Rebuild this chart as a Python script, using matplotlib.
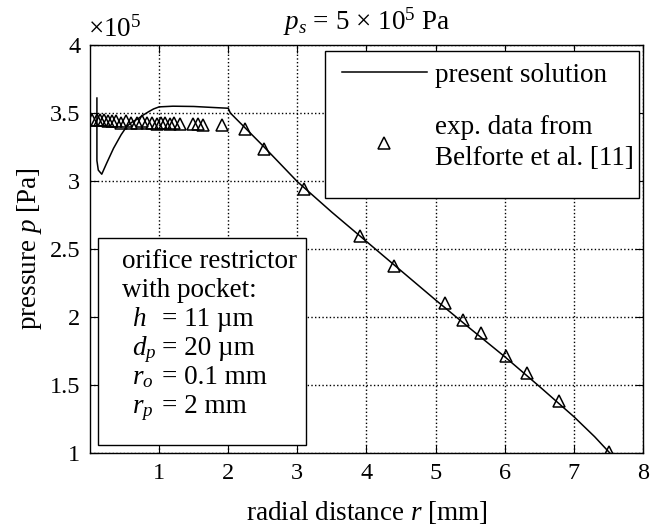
import matplotlib
matplotlib.use("Agg")
import matplotlib.pyplot as plt
from matplotlib.patches import Rectangle

plt.rcParams['font.family'] = ['Liberation Serif', 'DejaVu Serif']
plt.rcParams['mathtext.fontset'] = 'custom'
plt.rcParams['mathtext.rm'] = 'Liberation Serif'
plt.rcParams['mathtext.it'] = 'Liberation Serif:italic'
plt.rcParams['mathtext.bf'] = 'Liberation Serif:bold'

# present solution (pressure in 1e5 Pa vs radial distance in mm)
sol_r = [0.10, 0.10, 0.12, 0.17, 0.24, 0.34, 0.45, 0.53, 0.60, 0.70, 0.77, 0.85, 0.92, 1.00,
         1.20, 1.50, 1.80, 2.00, 2.03, 2.50, 3.00, 3.50, 4.00, 4.50, 5.00, 5.50, 6.00,
         6.50, 7.00, 7.30, 7.52]
sol_p = [3.61, 3.15, 3.08, 3.05, 3.13, 3.24, 3.34, 3.40, 3.43, 3.46, 3.485, 3.51, 3.53, 3.545,
         3.550, 3.548, 3.540, 3.535, 3.50, 3.26, 2.995, 2.77, 2.555, 2.34, 2.125, 1.915, 1.708,
         1.49, 1.267, 1.12, 1.00]

# experimental data (Belforte et al.)
exp_r = [0.03, 0.10, 0.15, 0.20, 0.26, 0.32, 0.38, 0.45, 0.52, 0.60, 0.68, 0.75, 0.82, 0.90,
         0.97, 1.03, 1.09, 1.16, 1.22, 1.30, 1.49, 1.56, 1.64, 1.91,
         2.24, 2.52, 3.09, 3.91, 4.40, 5.13, 5.40, 5.65, 6.02, 6.32, 6.78, 7.51]
exp_p = [3.45, 3.45, 3.45, 3.45, 3.44, 3.44, 3.44, 3.43, 3.44, 3.43, 3.43, 3.44, 3.43, 3.43,
         3.42, 3.43, 3.43, 3.42, 3.43, 3.42, 3.42, 3.42, 3.41, 3.41,
         3.38, 3.235, 2.94, 2.596, 2.377, 2.105, 1.978, 1.885, 1.713, 1.59, 1.385, 1.01]

xticks = [1, 2, 3, 4, 5, 6, 7, 8]
yticks = [1, 1.5, 2, 2.5, 3, 3.5, 4]
ytick_labels = ['1', '1.5', '2', '2.5', '3', '3.5', '4']

info_sym = [r'$h$', r'$d_p$', r'$r_o$', r'$r_p$']
info_val = ['= 11 \u00b5m', '= 20 \u00b5m', '= 0.1 mm', '= 2 mm']

FS = 19.5
fig = plt.figure(figsize=(6.5, 5.27), dpi=100)
ax = fig.add_axes([90/650, 74/527, 553/650, 408/527])

ax.plot(sol_r, sol_p, color='black', lw=1.1, label='present solution', zorder=3)
ax.plot(exp_r, exp_p, linestyle='none', marker='^', ms=9, mfc='none', mec='black', mew=1.1,
        label='exp. data from\nBelforte et al. [11]', zorder=4)

ax.set_xlim(0, 8)
ax.set_ylim(1, 4)
ax.set_xticks(xticks)
ax.set_yticks(yticks)
ax.set_yticklabels(ytick_labels)
ax.tick_params(direction='in', top=True, right=True, length=6, width=0.8, labelsize=17.5, pad=7)
ax.grid(True, linestyle=':', color='black', lw=1.0)
for s in ax.spines.values():
    s.set_linewidth(1.0)

ax.set_xlabel(r'radial distance $r$ [mm]', fontsize=FS, labelpad=11)
ax.set_ylabel(r'pressure $p$ [Pa]', fontsize=FS, labelpad=4)
ax.set_title('$p_s$ = 5 \u00d7 10$^5$ Pa', fontsize=FS, pad=11)
ax.text(-0.003, 1.005, '\u00d710$^5$', transform=ax.transAxes, fontsize=FS,
        ha='left', va='bottom')

# legend frame and entries
ax.add_patch(Rectangle((0.425, 0.625), 0.568, 0.36, transform=ax.transAxes,
                       facecolor='white', edgecolor='black', lw=1.0, zorder=5))
leg = ax.legend(loc='upper left', bbox_to_anchor=(0.455, 0.957), frameon=False,
                fontsize=FS, handlelength=3.15, handletextpad=0.31, borderpad=0,
                borderaxespad=0, labelspacing=1.0)
for t in leg.get_texts():
    t.set_linespacing(1.35)
leg.set_zorder(6)

# info box
ax.add_patch(Rectangle((0.0145, 0.0196), 0.376, 0.507, transform=ax.transAxes,
                       facecolor='white', edgecolor='black', lw=1.0, zorder=5))
ax.text(0.058, (453-268)/408, 'orifice restrictor', transform=ax.transAxes, fontsize=FS,
        va='baseline', ha='left', zorder=6)
ax.text(0.058, (453-297)/408, 'with pocket:', transform=ax.transAxes, fontsize=FS,
        va='baseline', ha='left', zorder=6)
base = [326, 355, 384, 413]
for s, v, b in zip(info_sym, info_val, base):
    ax.text(0.076, (453-b)/408, s, transform=ax.transAxes, fontsize=FS,
            va='baseline', ha='left', zorder=6)
    ax.text(0.131, (453-b)/408, v, transform=ax.transAxes, fontsize=FS,
            va='baseline', ha='left', zorder=6)

fig.savefig('out.png', dpi=100)
